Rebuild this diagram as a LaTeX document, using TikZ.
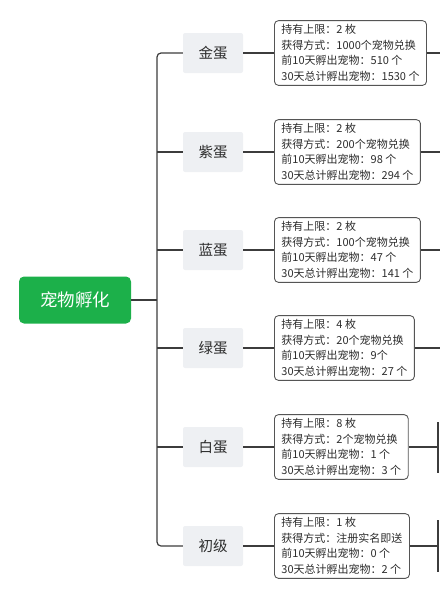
\documentclass[tikz,border=0pt]{standalone}
\usepackage{fontspec}
\setmainfont{Noto Sans CJK SC}
\usepackage{tikz}
\usetikzlibrary{positioning}

\definecolor{rootgreen}{RGB}{28,176,74}
\definecolor{eggfill}{RGB}{238,240,243}
\definecolor{linegray}{RGB}{60,60,60}
\definecolor{boxgray}{RGB}{85,85,85}
\definecolor{textgray}{RGB}{45,45,45}

\begin{document}
\begin{tikzpicture}[x=1pt, y=-1pt,
    wire/.style={draw=linegray, line width=1.2pt},
    rootbox/.style={fill=rootgreen, text=white, rounded corners=5pt,
        minimum width=112pt, minimum height=47pt,
        font=\fontsize{17.5}{21}\selectfont},
    eggbox/.style={fill=eggfill, rounded corners=2pt, text=textgray,
        minimum width=60pt, minimum height=40pt,
        font=\fontsize{14.5}{18}\selectfont},
    infobox/.style={draw=boxgray, line width=0.9pt, fill=white,
        rounded corners=4pt, align=left, anchor=west, text=textgray,
        inner xsep=7pt, inner ysep=4pt,
        font=\fontsize{11}{15.5}\selectfont}]

    \useasboundingbox (0,0) rectangle (440,600);

    \coordinate (spine) at (157,300);
    \coordinate (edge) at (440,0);

    \node[rootbox] (root) at (75,300) {宠物孵化};

    \node[eggbox] (gold)    at (213,53)  {金蛋};
    \node[eggbox] (purple)  at (213,152) {紫蛋};
    \node[eggbox] (blue)    at (213,250) {蓝蛋};
    \node[eggbox] (green)   at (213,348) {绿蛋};
    \node[eggbox] (white)   at (213,447) {白蛋};
    \node[eggbox] (starter) at (213,546) {初级};

    \node[infobox] (goldinfo) at (274,53)
        {持有上限：2 枚\\获得方式：1000个宠物兑换\\前10天孵出宠物：510 个\\30天总计孵出宠物：1530 个};
    \node[infobox] (purpleinfo) at (274,152)
        {持有上限：2 枚\\获得方式：200个宠物兑换\\前10天孵出宠物：98 个\\30天总计孵出宠物：294 个};
    \node[infobox] (blueinfo) at (274,250)
        {持有上限：2 枚\\获得方式：100个宠物兑换\\前10天孵出宠物：47 个\\30天总计孵出宠物：141 个};
    \node[infobox] (greeninfo) at (274,348)
        {持有上限：4 枚\\获得方式：20个宠物兑换\\前10天孵出宠物：9个\\30天总计孵出宠物：27 个};
    \node[infobox] (whiteinfo) at (274,447)
        {持有上限：8 枚\\获得方式：2个宠物兑换\\前10天孵出宠物：1 个\\30天总计孵出宠物：3 个};
    \node[infobox] (starterinfo) at (274,546)
        {持有上限：1 枚\\获得方式：注册实名即送\\前10天孵出宠物：0 个\\30天总计孵出宠物：2 个};

    \draw[wire] (root) -- (spine);
    \draw[wire, rounded corners=4pt] (gold.west) -| (spine) |- (starter.west);
    \draw[wire] (spine |- purple.west) -- (purple.west);
    \draw[wire] (spine |- blue.west) -- (blue.west);
    \draw[wire] (spine |- green.west) -- (green.west);
    \draw[wire] (spine |- white.west) -- (white.west);

    \draw[wire] (gold) -- (goldinfo);
    \draw[wire] (purple) -- (purpleinfo);
    \draw[wire] (blue) -- (blueinfo);
    \draw[wire] (green) -- (greeninfo);
    \draw[wire] (white) -- (whiteinfo);
    \draw[wire] (starter) -- (starterinfo);

    \draw[wire] (goldinfo.east) -- (goldinfo.east -| edge);
    \draw[wire] (purpleinfo.east) -- (purpleinfo.east -| edge);
    \draw[wire] (blueinfo.east) -- (blueinfo.east -| edge);
    \draw[wire] (greeninfo.east) -- (greeninfo.east -| edge);

    \coordinate (whitenext) at (438,447);
    \coordinate (starternext) at (438,546);
    \draw[wire] (whiteinfo.east) -- (whitenext);
    \draw[wire] ([yshift=25pt]whitenext) -- ([yshift=-26pt]whitenext);
    \draw[wire] (starterinfo.east) -- (starternext);
    \draw[wire] ([yshift=26pt]starternext) -- ([yshift=-26pt]starternext);
\end{tikzpicture}
\end{document}
